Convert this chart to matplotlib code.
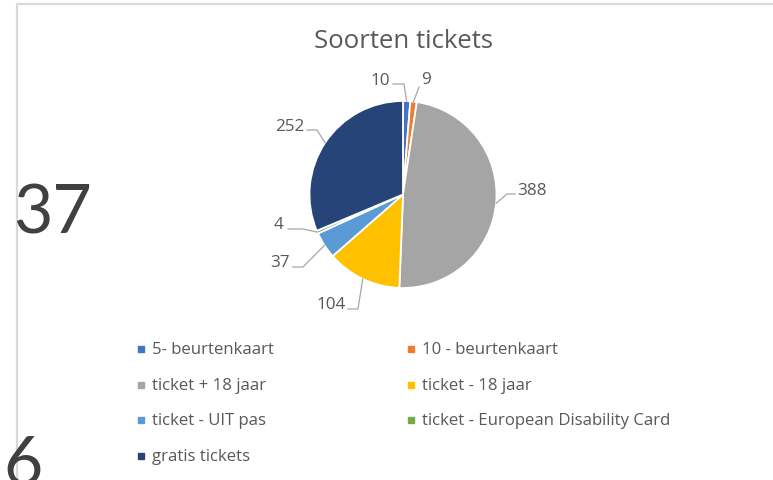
import numpy as np
import matplotlib
matplotlib.use('Agg')
import matplotlib.pyplot as plt

# data
categorieen = ['5- beurtenkaart', '10 - beurtenkaart', 'ticket + 18 jaar', 'ticket - 18 jaar',
               'ticket - UIT pas', 'ticket - European Disability Card', 'gratis tickets']
aantallen = [10, 9, 388, 104, 37, 4, 252]
kleuren = ['#4472C4', '#ED7D31', '#A5A5A5', '#FFC000', '#5B9BD5', '#70AD47', '#264478']
titel = 'Soorten tickets'

W, H = 773, 481
plt.rcParams['font.family'] = ['Open Sans', 'DejaVu Sans']

fig = plt.figure(figsize=(W / 100, H / 100), dpi=100)
ax = fig.add_axes([0, 0, 1, 1])

def py(y):
    # pixel y (van boven) naar data y
    return H - y

# taart
cx, cy, r = 403, 195.5, 93.5
explode = [0, 0, 0, 0, 0, 0, 0.035]
wedges, _ = ax.pie(aantallen, colors=kleuren, startangle=90, counterclock=False,
                   center=(cx, py(cy)), radius=r, explode=explode,
                   wedgeprops=dict(edgecolor='white', linewidth=1.3))

# labels met lijntjes: tekstpositie, begin lijn, knik (pixels)
label_pos = [(380, 81), (426, 80), (532, 191), (331, 305), (280, 263), (279, 225), (290, 127)]
lijn_start = [(393, 85), (419, 88), (515, 195), (348, 310), (293, 268), (288, 230), (307, 131)]
lijn_knik = [(404, 85), (419, 88), (507, 195), (358, 310), (303, 268), (303, 230), (317, 131)]

for w, n, tp, ls, lk in zip(wedges, aantallen, label_pos, lijn_start, lijn_knik):
    hoek = np.deg2rad((w.theta1 + w.theta2) / 2)
    ax_x = w.center[0] + w.r * np.cos(hoek)
    ax_y = w.center[1] + w.r * np.sin(hoek)
    ax.plot([ls[0], lk[0], ax_x], [py(ls[1]), py(lk[1]), ax_y], color='#A6A6A6', lw=0.9,
            solid_joinstyle='miter')
    ax.text(tp[0], py(tp[1]), str(n), ha='center', va='center', fontsize=12.3, color='#595959')

# titel
ax.text(403, py(41), titel, ha='center', va='center', fontsize=18.5, color='#595959')

# legenda (twee kolommen, rij voor rij)
for i, (naam, kl) in enumerate(zip(categorieen, kleuren)):
    rij, kol = divmod(i, 2)
    x = [141, 411][kol]
    y = 350 + 35.7 * rij
    ax.plot(x, py(y), marker='s', ms=5, color=kl, linestyle='none')
    ax.text(x + 11, py(y), naam, ha='left', va='center', fontsize=12.1, color='#595959')

# kader van de grafiek
ax.plot([17, 17, W], [0, py(5), py(5)], color='#D9D9D9', lw=1.6, zorder=0)

# grote getallen van de dia erachter
ax.text(13, py(234), '37', ha='left', va='baseline', fontsize=49, color='#404040',
        family='Lato')
ax.text(3, py(485), '6', ha='left', va='baseline', fontsize=49, color='#404040',
        family='Lato')

ax.set_xlim(0, W)
ax.set_ylim(0, H)
ax.set_aspect('auto')
ax.axis('off')

fig.savefig('out.png', dpi=100, facecolor='white')
